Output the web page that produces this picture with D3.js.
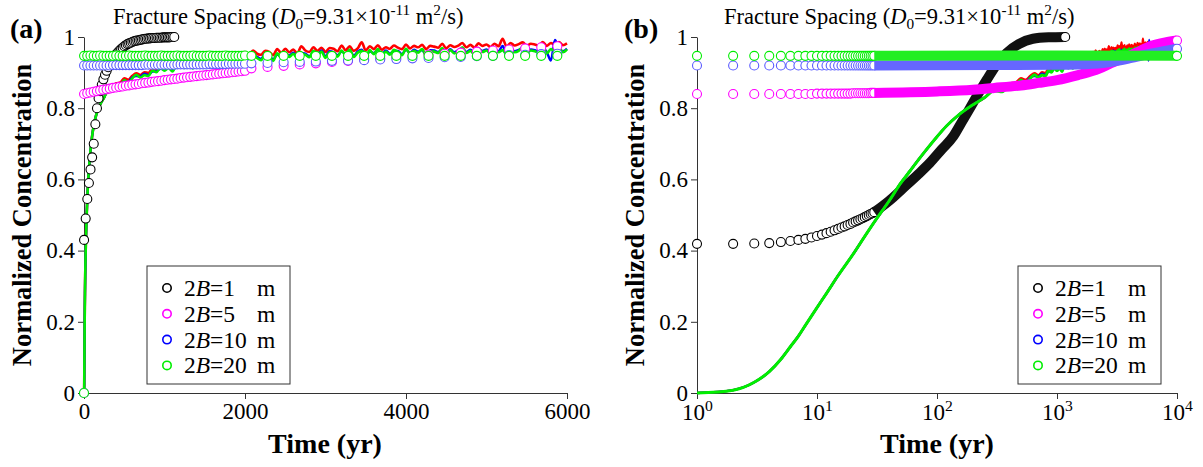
<!DOCTYPE html>
<html>
<head>
<meta charset="utf-8">
<script src="https://cdn.jsdelivr.net/npm/d3@7"></script>
<style>
  body { margin: 0; background: #fff; }
  svg  { display: block; font-family: "Liberation Serif", "Times New Roman", serif; }
</style>
</head>
<body>
<svg id="chart" width="1203" height="467" font-family="Liberation Serif, Times New Roman, serif"></svg>
<script>
// ---- data ----
const spacings = ["1", "5", "10", "20"];
const yTicks   = [0, 0.2, 0.4, 0.6, 0.8, 1];
const xTicksA  = [0, 2000, 4000, 6000];
const xTicksB  = [1, 10, 100, 1000, 10000];

// numerical curves (shared early part, noisy late part)
const lineYearsEarly = [1, 2, 3, 4, 5, 6, 7, 8, 10, 12, 15, 20, 25, 30, 40, 50, 60, 70, 80, 100, 120, 150, 200, 250];
const lineEarly      = [0, .008, .03, .06, .095, .13, .16, .19, .24, .28, .33, .39, .44, .48, .54, .59, .625, .655, .68, .72, .75, .78, .81, .83];
const lineYearsLate = [
  300, 350, 400, 450, 500, 550, 600, 650, 700, 750,
  800, 850, 900, 950, 1000, 1050, 1100, 1150, 1200, 1250,
  1300, 1350, 1400, 1450, 1500, 1550, 1600, 1650, 1700, 1750,
  1800, 1850, 1900, 1950, 2000, 2050, 2100, 2150, 2200, 2250,
  2300, 2350, 2400, 2450, 2500, 2550, 2600, 2650, 2700, 2750,
  2800, 2850, 2900, 2950, 3000, 3050, 3100, 3150, 3200, 3250,
  3300, 3350, 3400, 3450, 3500, 3550, 3600, 3650, 3700, 3750,
  3800, 3850, 3900, 3950, 4000, 4050, 4100, 4150, 4200, 4250,
  4300, 4350, 4400, 4450, 4500, 4550, 4600, 4650, 4700, 4750,
  4800, 4850, 4900, 4950, 5000, 5050, 5100, 5150, 5200, 5250,
  5300, 5350, 5400, 5450, 5500, 5550, 5600, 5650, 5700, 5750,
  5800, 5850, 5900, 5950, 6000];
const redLate = [
  .855, .858, .870, .872, .884, .880, .891, .898, .893, .901,
  .899, .911, .908, .919, .914, .922, .915, .928, .925, .922,
  .934, .925, .936, .931, .943, .932, .939, .945, .936, .948,
  .942, .953, .941, .951, .958, .949, .962, .953, .950, .961,
  .958, .949, .966, .955, .967, .957, .965, .954, .974, .962,
  .958, .971, .961, .970, .958, .969, .967, .960, .976, .963,
  .974, .961, .968, .985, .962, .974, .966, .977, .964, .971,
  .967, .976, .970, .966, .979, .968, .975, .971, .978, .966,
  .975, .973, .970, .981, .968, .977, .972, .976, .983, .971,
  .978, .970, .982, .975, .979, .972, .981, .974, .995, .973,
  .983, .976, .980, .985, .975, .981, .979, .976, .986, .975,
  .983, .978, .986, .977, .982];
const blueLate = [
  .851, .849, .863, .867, .876, .873, .887, .890, .889, .897,
  .893, .903, .904, .911, .908, .916, .907, .918, .920, .916,
  .925, .916, .929, .924, .933, .923, .932, .932, .926, .940,
  .934, .941, .931, .944, .944, .940, .948, .944, .939, .952,
  .948, .937, .951, .945, .953, .948, .956, .943, .955, .953,
  .946, .958, .950, .962, .945, .960, .957, .949, .959, .953,
  .962, .948, .959, .964, .946, .960, .955, .963, .951, .962,
  .953, .961, .961, .952, .964, .956, .964, .959, .963, .951,
  .963, .962, .958, .966, .955, .966, .957, .963, .968, .958,
  .964, .955, .966, .961, .965, .957, .964, .960, .975, .955,
  .967, .960, .964, .969, .958, .965, .963, .959, .969, .957,
  .934, .992, .968, .960, .967];
const greenLate = [
  .849, .846, .866, .863, .879, .869, .884, .894, .886, .893,
  .890, .906, .901, .914, .905, .913, .903, .921, .917, .913,
  .928, .912, .926, .921, .936, .919, .929, .935, .922, .937,
  .931, .944, .927, .941, .947, .936, .951, .941, .935, .949,
  .946, .933, .954, .941, .956, .944, .953, .939, .952, .950,
  .943, .961, .946, .959, .941, .957, .955, .945, .962, .949,
  .965, .944, .956, .961, .942, .963, .952, .966, .947, .959,
  .950, .964, .958, .949, .967, .952, .961, .956, .966, .947,
  .960, .959, .955, .969, .951, .963, .954, .960, .971, .955,
  .961, .951, .969, .958, .962, .953, .967, .957, .963, .951,
  .970, .957, .961, .972, .955, .962, .960, .956, .972, .954,
  .966, .960, .971, .957, .965];

// analytical points, panel (a)
const blackYearsA = [
  1, 21, 41, 61, 81, 101, 121, 141, 161, 181,
  201, 221, 241, 261, 281, 301, 321, 341, 361, 381,
  401, 421, 441, 461, 481, 501, 521, 541, 561, 581,
  601, 621, 641, 661, 681, 701, 721, 741, 761, 781,
  801, 821, 841, 861, 881, 901, 921, 941, 961, 981,
  1001, 1021, 1041, 1061, 1081, 1101, 1121];
const blackA = [
  .430, .490, .545, .590, .628, .662, .700, .755, .800, .828,
  .848, .866, .881, .894, .905, .915, .924, .932, .939, .946,
  .952, .957, .962, .966, .970, .974, .977, .980, .982, .984,
  .986, .988, .989, .990, .991, .992, .993, .994, .995, .995,
  .996, .996, .997, .997, .997, .998, .998, .998, .998, .999,
  .999, .999, .999, .999, 1, 1, 1];
const yearsA = [
  0, 1, 40, 80, 120, 160, 200, 240, 280, 320,
  360, 400, 440, 480, 520, 560, 600, 640, 680, 720,
  760, 800, 840, 880, 920, 960, 1000, 1040, 1080, 1120,
  1160, 1200, 1240, 1280, 1320, 1360, 1400, 1440, 1480, 1520,
  1560, 1600, 1640, 1680, 1720, 1760, 1800, 1840, 1880, 1920,
  1960, 2000, 2080, 2280, 2480, 2680, 2880, 3080, 3280, 3480,
  3680, 3880, 4080, 4280, 4480, 4680, 4880, 5080, 5280, 5480,
  5680, 5880];
const magentaA = [
  0, .840, .842, .844, .846, .848, .850, .852, .853, .855,
  .857, .858, .860, .861, .863, .864, .866, .867, .868, .870,
  .871, .872, .874, .875, .876, .877, .879, .880, .881, .882,
  .883, .885, .886, .887, .888, .889, .890, .891, .892, .893,
  .894, .895, .896, .897, .898, .899, .900, .901, .902, .903,
  .904, .905, .912, .916, .919, .923, .926, .930, .933, .937,
  .940, .944, .947, .950, .953, .956, .959, .962, .965, .968,
  .971, .974];
const blueA = [
  0, .920, .920, .920, .920, .920, .920, .920, .920, .920,
  .921, .921, .921, .921, .921, .921, .921, .921, .921, .921,
  .922, .922, .922, .922, .922, .922, .922, .922, .922, .922,
  .923, .923, .923, .923, .923, .923, .923, .923, .923, .923,
  .924, .924, .924, .924, .924, .924, .925, .925, .925, .925,
  .925, .925, .926, .927, .929, .930, .931, .933, .934, .935,
  .937, .938, .940, .941, .943, .944, .946, .947, .949, .950,
  .952, .953];
const greenA = [
  0, .947, .947, .948, .947, .947, .948, .947, .947, .947,
  .947, .948, .947, .947, .947, .948, .947, .947, .947, .947,
  .948, .947, .947, .947, .947, .948, .947, .947, .947, .947,
  .948, .947, .947, .947, .947, .948, .947, .947, .947, .947,
  .948, .947, .947, .947, .947, .948, .947, .947, .947, .947,
  .947, .948, .947, .947, .947, .947, .947, .947, .947, .947,
  .947, .947, .947, .947, .947, .947, .947, .947, .947, .947,
  .947, .947];

// analytical points, panel (b): single early points + dense bands
const yearsB = [1, 2, 3, 4, 5, 6, 7, 8, 9, 10, 11, 12, 13, 14, 15, 16, 17, 18, 19, 20, 21, 22, 23, 24, 25, 26, 27, 28, 29, 30];
const blackB = [.419, .419, .420, .421, .424, .427, .430, .433, .437, .441, .445, .449, .453, .457, .461,
                .465, .468, .472, .475, .479, .482, .485, .488, .491, .494, .497, .500, .503, .505, .508];
const magentaB = [.840, .840, .840, .840, .840, .840, .840, .840, .840, .841, .841, .841, .841, .841, .841,
                  .841, .841, .841, .841, .842, .842, .842, .842, .842, .842, .842, .842, .843, .843, .843];
const blueB  = [.920, .920, .920, .920, .920, .920, .920, .920, .920, .920, .920, .920, .920, .920, .920,
                .920, .920, .920, .920, .920, .920, .920, .920, .920, .920, .920, .920, .920, .920, .920];
const greenB = [.947, .947, .947, .947, .947, .947, .947, .947, .947, .947, .947, .947, .947, .947, .947,
                .947, .947, .947, .947, .947, .947, .947, .947, .947, .947, .947, .947, .947, .947, .947];
const blackBandYears   = [30, 40, 52, 70, 87, 110, 136, 160, 188, 220, 260, 310, 380, 480, 630, 850, 1170];
const blackBand        = [.508, .54, .575, .615, .646, .685, .72, .76, .80, .84, .88, .92, .955, .98, .995, .999, 1];
const magentaBandYears = [30, 100, 200, 300, 500, 700, 1000, 1500, 2000, 3000, 4000, 5000, 6000, 8000, 10000];
const magentaBand      = [.843, .847, .852, .857, .864, .871, .879, .893, .905, .930, .947, .962, .974, .985, .990];
const blueBandYears    = [30, 300, 1000, 2000, 3000, 4000, 5000, 6000, 8000, 10000];
const blueBand         = [.920, .921, .922, .925, .932, .940, .947, .953, .961, .967];
const greenBandYears   = [30, 1000, 10000];
const greenBand        = [.947, .948, .947];

// ---- drawing ----
const col = {black: "#000", magenta: "#ff00ff", blue: "#0000ff", green: "#00ee00", red: "#ff0000"};
const dotBlue = "#5a5aff";   // thin blue outlines read lighter in the figure
const serif = "Liberation Serif, Times New Roman, serif";
const svg = d3.select("#chart");

const y  = d3.scaleLinear().domain([0, 1]).range([393, 37]);
const xa = d3.scaleLinear().domain([0, 6000]).range([84, 567]);
const xb = d3.scaleLog().domain([1, 10000]).range([697, 1177]);

const zip = (xs, ys) => xs.map((t, i) => [t, ys[i]]);

// text with italic / sub / superscript runs
function rich(sel, parts, size) {
  let cur = 0;
  parts.forEach(p => {
    const shift = p.sup ? -0.42 * size : p.sub ? 0.22 * size : 0;
    const ts = sel.append("tspan").text(p.t).attr("dy", shift - cur);
    if (p.sup || p.sub) ts.attr("font-size", size * 0.68);
    if (p.i) ts.attr("font-style", "italic");
    cur = shift;
  });
}

function styleAxis(g) {
  g.attr("font-family", serif).attr("font-size", 23);
  g.selectAll("path, line").attr("stroke", "#333");
  g.selectAll("text").attr("fill", "#000");
}

function axes(x, ticks, left, fmt) {
  const gy = svg.append("g").attr("transform", `translate(${left},0)`)
    .call(d3.axisLeft(y).tickValues(yTicks).tickSize(6).tickSizeOuter(0).tickPadding(3).tickFormat(d3.format("~g")));
  styleAxis(gy);
  const gx = svg.append("g").attr("transform", "translate(0,393)")
    .call(d3.axisBottom(x).tickValues(ticks).tickSize(6).tickSizeOuter(0).tickPadding(4).tickFormat(fmt));
  styleAxis(gx);
  return gx;
}

function dots(g, x, pts, color, r = 4.5) {
  g.append("g").selectAll("circle").data(pts).join("circle")
    .attr("cx", d => x(d[0])).attr("cy", d => y(d[1])).attr("r", r)
    .attr("fill", "#fff").attr("stroke", color).attr("stroke-width", 1.1);
}

function curve(g, x, pts, color, width) {
  g.append("path").datum(pts)
    .attr("d", d3.line().x(d => x(d[0])).y(d => y(d[1])).curve(d3.curveMonotoneX))
    .attr("fill", "none").attr("stroke", color).attr("stroke-width", width)
    .attr("stroke-linejoin", "round");
}

function legend(x0) {
  const g = svg.append("g");
  g.append("rect").attr("x", x0).attr("y", 266).attr("width", 143).attr("height", 118)
    .attr("fill", "#fff").attr("stroke", "#333").attr("stroke-width", 1);
  const c = [col.black, col.magenta, col.blue, col.green];
  spacings.forEach((s, i) => {
    const cy = 288 + i * 25.8;
    g.append("circle").attr("cx", x0 + 20).attr("cy", cy).attr("r", 4.2)
      .attr("fill", "#fff").attr("stroke", c[i]).attr("stroke-width", 1.6);
    const t = g.append("text").attr("x", x0 + 37).attr("y", cy + 8).attr("font-size", 23.5);
    rich(t, [{t: "2"}, {t: "B", i: true}, {t: "=" + s}], 23.5);
    g.append("text").attr("x", x0 + 110).attr("y", cy + 8).attr("font-size", 23.5).text("m");
  });
}

function titles(labelX, titleX, yTitleX, xTitleX, label) {
  svg.append("text").attr("x", labelX).attr("y", 38).attr("font-size", 28)
    .attr("font-weight", "bold").text(label);
  const t = svg.append("text").attr("x", titleX).attr("y", 24).attr("font-size", 22.5);
  rich(t, [{t: "Fracture Spacing ("}, {t: "D", i: true}, {t: "0", sub: true}, {t: "=9.31×10"},
           {t: "-11", sup: true}, {t: " m"}, {t: "2", sup: true}, {t: "/s)"}], 22.5);
  svg.append("text").attr("transform", `translate(${yTitleX},215) rotate(-90)`)
    .attr("text-anchor", "middle").attr("dy", "0.35em").attr("font-size", 26.5)
    .attr("font-weight", "bold").text("Normalized Concentration");
  svg.append("text").attr("x", xTitleX).attr("y", 453).attr("text-anchor", "middle")
    .attr("font-size", 28).attr("font-weight", "bold").text("Time (yr)");
}

const lineYears = lineYearsEarly.concat(lineYearsLate);

// panel (a)
titles(10, 113, 22, 325, "(a)");
axes(xa, xTicksA, 84, d3.format("d"));
const ga = svg.append("g");
curve(ga, xa, zip(lineYears, lineEarly.concat(redLate)), col.red, 2.6);
curve(ga, xa, zip(lineYears, lineEarly.concat(blueLate)), col.blue, 2.4);
curve(ga, xa, zip(lineYears, lineEarly.concat(greenLate)), col.green, 2.6);
dots(ga, xa, zip(blackYearsA, blackA), col.black);
dots(ga, xa, zip(yearsA, magentaA), col.magenta);
dots(ga, xa, zip(yearsA, blueA), dotBlue);
dots(ga, xa, zip(yearsA, greenA), col.green);
legend(147);

// panel (b)
titles(624, 724, 635, 937, "(b)");
const gxb = axes(xb, xTicksB, 697, () => "");
gxb.selectAll(".tick text").attr("dy", null).attr("y", 11 + 0.71 * 23).each(function(d) {
  rich(d3.select(this), [{t: "10"}, {t: String(Math.round(Math.log10(d))), sup: true}], 23);
});
const gb = svg.append("g");
function seriesB(vals, bandYears, band, color, bandColor) {
  dots(gb, xb, zip(yearsB, vals), color);
  curve(gb, xb, zip(bandYears, band), bandColor, 10);
  const last = bandYears.length - 1;
  dots(gb, xb, [[bandYears[last], band[last]]], color);
}
seriesB(blackB, blackBandYears, blackBand, col.black, "#111");
curve(gb, xb, zip(lineYears, lineEarly.concat(redLate)), col.red, 2.4);
curve(gb, xb, zip(lineYears, lineEarly.concat(blueLate)), col.blue, 2.4);
curve(gb, xb, zip(lineYears, lineEarly.concat(greenLate)), col.green, 3);
seriesB(magentaB, magentaBandYears, magentaBand, col.magenta, col.magenta);
seriesB(blueB, blueBandYears, blueBand, dotBlue, "#6666ff");
seriesB(greenB, greenBandYears, greenBand, col.green, "#22ee22");
legend(1018);
</script>
</body>
</html>
